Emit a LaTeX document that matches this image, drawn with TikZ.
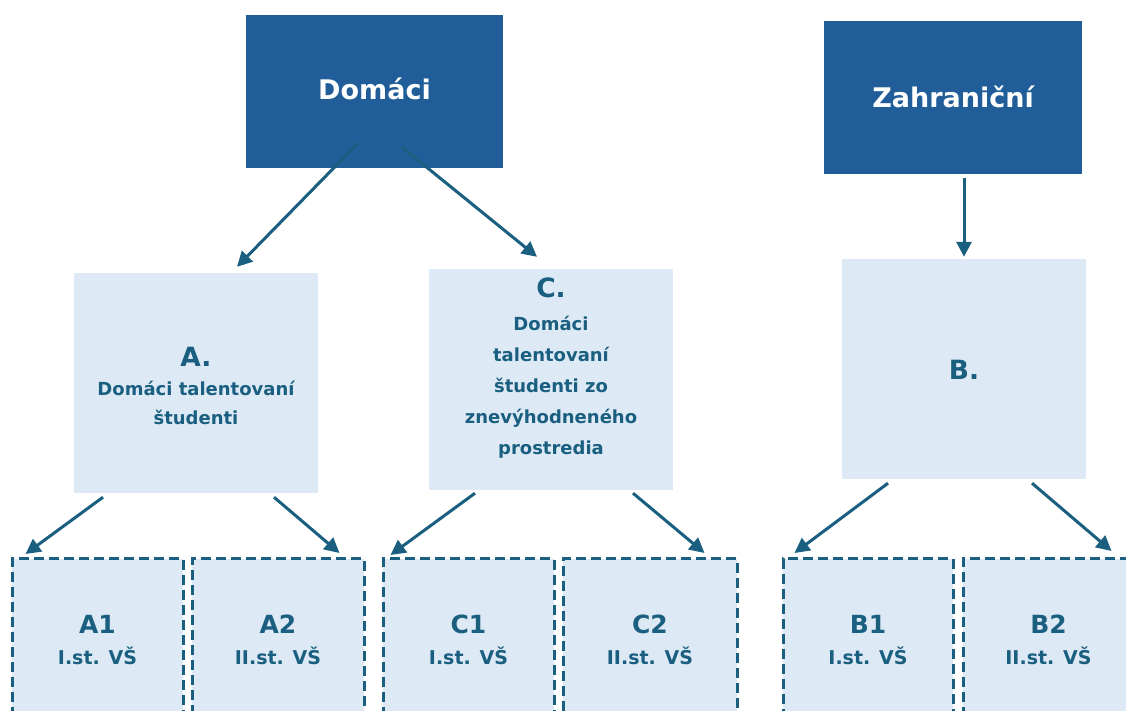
\documentclass[tikz,border=0pt]{standalone}
\usepackage{fontspec}
\setmainfont{DejaVu Sans}
\usetikzlibrary{arrows.meta,calc}
\definecolor{darkbox}{HTML}{215E99}
\definecolor{lightbox}{HTML}{DDEAF6}
\definecolor{teal}{HTML}{1A5F80}
\begin{document}
\begin{tikzpicture}[x=1pt,y=-1pt,
  topbox/.style={fill=darkbox,draw=none,minimum width=257pt,minimum height=153pt,inner sep=0pt},
  midbox/.style={fill=lightbox,draw=none,minimum width=244pt,minimum height=220pt,inner sep=0pt},
  leafbox/.style={fill=lightbox,draw=teal,line width=3pt,dash pattern=on 10pt off 5pt,minimum width=171pt,minimum height=200pt,inner sep=0pt,anchor=north},
  toptext/.style={text=white,font=\bfseries\fontsize{27}{32}\selectfont,anchor=base,inner sep=0pt},
  bigletter/.style={text=teal,font=\bfseries\fontsize{26.5}{31}\selectfont,anchor=base,inner sep=0pt},
  bodytext/.style={text=teal,font=\bfseries\fontsize{18}{31}\selectfont,anchor=base,align=center,inner sep=0pt},
  leaftitle/.style={text=teal,font=\bfseries\fontsize{25}{31}\selectfont,anchor=base,inner sep=0pt},
  leafsub/.style={text=teal,font=\bfseries\fontsize{19}{31}\selectfont,anchor=base,inner sep=0pt},
  conn/.style={draw=teal,line width=3pt,-{Triangle[length=15pt,width=15pt]}}
]
\useasboundingbox (0,0) rectangle (1126,711);
\clip (0,0) rectangle (1126,711);
\fill[white] (0,0) rectangle (1126,711);

% top boxes
\node[topbox] (dom) at (374.5,91.5) {};
\node[toptext] (domt) at (374.5,100) {Domáci};
\node[topbox,minimum width=258pt] (zah) at (953,97.5) {};
\node[toptext] (zaht) at (953,108) {Zahraniční};

% middle boxes
\node[midbox] (A) at (196,383) {};
\node[bigletter] (At) at (196,366) {A.};
\node[bodytext,font=\bfseries\fontsize{18}{28.5}\selectfont] (Ab) at (196,424) {Domáci talentovaní\\študenti};

\node[midbox,minimum height=221pt] (C) at (551,379.5) {};
\node[bigletter] (Ct) at (551,297) {C.};
\node[bodytext] (Cb) at (551,454) {Domáci\\talentovaní\\študenti zo\\znevýhodneného\\prostredia};

\node[midbox] (B) at (964,369) {};
\node[bigletter] (Bt) at (964,379) {B.};

% leaves
\node[leafbox] (A1) at (97.5,557) {};
\node[leafbox,minimum width=172pt] (A2) at (278,557) {};
\node[leafbox] (C1) at (468.5,557) {};
\node[leafbox,minimum width=174pt] (C2) at (650,557) {};
\node[leafbox,minimum width=170pt] (B1) at (868,557) {};
\node[leafbox] (B2) at (1048.5,557) {};

\foreach \n/\t/\s in {A1/A1/I.st. VŠ, A2/A2/II.st. VŠ, C1/C1/I.st. VŠ, C2/C2/II.st. VŠ, B1/B1/I.st. VŠ, B2/B2/II.st. VŠ}{
  \node[leaftitle] (\n t) at ($(\n.north)+(0,76)$) {\t};
  \node[leafsub] (\n s) at ($(\n.north)+(0,107)$) {\s};
}

% connectors
\draw[conn] ($(dom.south)+(-16.5,-25)$) -- ($(A.north)+(41,-6)$);
\draw[conn] ($(dom.south)+(27.5,-21)$) -- ($(C.north)+(-14,-12)$);
\draw[conn] ($(zah.south)+(11,4)$) -- ($(B.north)+(0,-2)$);
\draw[conn] ($(A.south)+(-93,4)$) -- ($(A1.north west)+(15,-3)$);
\draw[conn] ($(A.south)+(78,4)$) -- ($(A2.north east)+(-26,-4)$);
\draw[conn] ($(C.south)+(-76,3)$) -- ($(C1.north west)+(9,-2)$);
\draw[conn] ($(C.south)+(82,3)$) -- ($(C2.north east)+(-34,-4)$);
\draw[conn] ($(B.south)+(-76,4)$) -- ($(B1.north west)+(13,-4)$);
\draw[conn] ($(B.south)+(68,4)$) -- ($(B2.north east)+(-24,-6)$);
\end{tikzpicture}
\end{document}
